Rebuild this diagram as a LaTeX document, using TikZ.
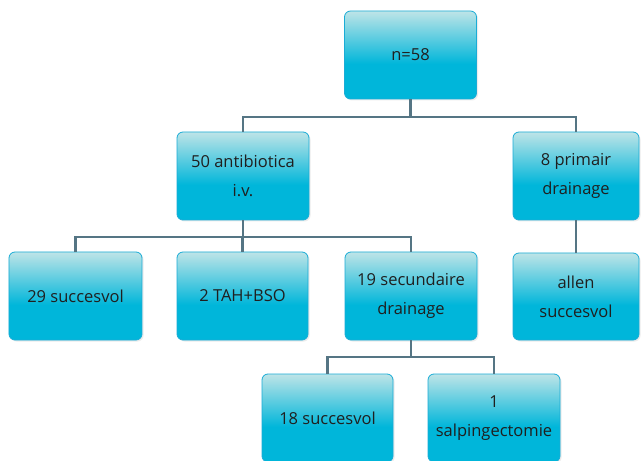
\documentclass[tikz,border=0pt]{standalone}
\usepackage{fontspec}
\setmainfont{Open Sans}
\usetikzlibrary{calc,shadows}
\definecolor{boxtop}{HTML}{BEE4E7}
\definecolor{boxbot}{HTML}{00B6DA}
\definecolor{boxline}{HTML}{1AACD6}
\definecolor{conn}{HTML}{557584}
\pgfdeclareverticalshading{boxshade}{100bp}{color(0bp)=(boxbot); color(25bp)=(boxbot); color(45bp)=(boxbot); color(75bp)=(boxtop); color(100bp)=(boxtop)}
\tikzset{
  box/.style={draw=boxline, line width=0.8bp, rounded corners=6bp, shading=boxshade,
    minimum width=132bp, minimum height=88bp, inner sep=2bp, align=center,
    font=\fontsize{16.5bp}{29bp}\selectfont, text=black!88,
    drop shadow={shadow xshift=1.5bp, shadow yshift=-1.5bp, opacity=0.15}},
  conn/.style={draw=conn, line width=2.4bp}
}
\begin{document}
\begin{tikzpicture}[x=1bp,y=-1bp]
\useasboundingbox (0,0) rectangle (641,461);
\fill[white] (0,0) rectangle (641,461);
\node[box] (top) at (410.5,55) {n=58};
\node[box] (ab) at (243,176) {50 antibiotica\\i.v.};
\node[box, minimum width=126bp] (prim) at (576,176) {8 primair\\drainage};
\node[box, minimum width=133bp] (s29) at (75.5,296) {29 succesvol};
\node[box, minimum width=131bp] (tah) at (242.5,296) {2 TAH+BSO};
\node[box] (sec) at (411,296) {19 secundaire\\drainage};
\node[box, minimum width=126bp, minimum height=87bp] (allen) at (576,296.5) {allen\\succesvol};
\node[box, minimum width=131bp] (s18) at (327.5,418) {18 succesvol};
\node[box] (sal) at (494,418) {1\\salpingectomie};
\coordinate (j1) at (410.5,117);
\coordinate (j2) at (243,237);
\coordinate (j3) at (411,357);
\draw[conn] (top.south) -- (j1);
\draw[conn] (j1) -| (ab.north);
\draw[conn] (j1) -| (prim.north);
\draw[conn] (ab.south) -- (j2);
\draw[conn] (j2) -| (s29.north);
\draw[conn] (j2) -| (tah.north);
\draw[conn] (j2) -| (sec.north);
\draw[conn] (prim.south) -- (allen.north);
\draw[conn] (sec.south) -- (j3);
\draw[conn] (j3) -| (s18.north);
\draw[conn] (j3) -| (sal.north);
\end{tikzpicture}
\end{document}
